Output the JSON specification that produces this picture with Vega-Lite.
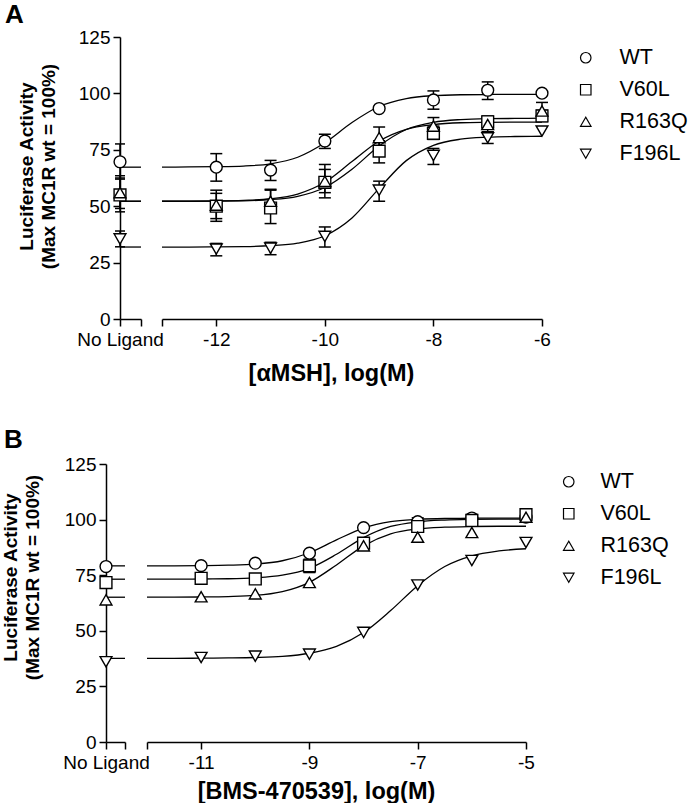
{
  "$schema": "https://vega.github.io/schema/vega-lite/v6.json",
  "background": "white",
  "padding": {"left": 0, "top": 2, "right": 0, "bottom": 0},
  "config": {
    "font": "Liberation Sans",
    "view": {"stroke": null},
    "axis": {"domainColor": "black", "domainWidth": 1.5, "tickColor": "black", "tickWidth": 1.5, "tickSize": 7, "labelFont": "Liberation Sans", "labelFontSize": 19, "labelColor": "black", "labelPadding": 4, "grid": false, "titleColor": "black", "titleFont": "Liberation Sans", "titleFontWeight": "bold"},
    "title": {"font": "Liberation Sans", "fontSize": 26, "fontWeight": "bold", "color": "black"}
  },
  "datasets": {
    "pts": [
      {"panel": "A", "series": "WT", "dose": null, "resp": 69.7, "lo": 62.0, "hi": 77.6},
      {"panel": "A", "series": "WT", "dose": -12, "resp": 67.3, "lo": 61.1, "hi": 73.3},
      {"panel": "A", "series": "WT", "dose": -11, "resp": 66.0, "lo": 61.4, "hi": 70.3},
      {"panel": "A", "series": "WT", "dose": -10, "resp": 78.9, "lo": 75.6, "hi": 81.9},
      {"panel": "A", "series": "WT", "dose": -9, "resp": 93.3, "lo": null, "hi": null},
      {"panel": "A", "series": "WT", "dose": -8, "resp": 97.1, "lo": 93.0, "hi": 101.1},
      {"panel": "A", "series": "WT", "dose": -7, "resp": 101.4, "lo": 97.3, "hi": 105.1},
      {"panel": "A", "series": "WT", "dose": -6, "resp": 100.1, "lo": null, "hi": null},
      {"panel": "A", "series": "V60L", "dose": null, "resp": 55.0, "lo": 47.5, "hi": 62.5},
      {"panel": "A", "series": "V60L", "dose": -12, "resp": 50.0, "lo": 43.3, "hi": 57.1},
      {"panel": "A", "series": "V60L", "dose": -11, "resp": 49.2, "lo": 42.3, "hi": 57.1},
      {"panel": "A", "series": "V60L", "dose": -10, "resp": 60.6, "lo": 53.7, "hi": 68.5},
      {"panel": "A", "series": "V60L", "dose": -9, "resp": 74.4, "lo": 69.2, "hi": 79.0},
      {"panel": "A", "series": "V60L", "dose": -8, "resp": 82.3, "lo": 79.6, "hi": 85.5},
      {"panel": "A", "series": "V60L", "dose": -7, "resp": 87.4, "lo": 84.5, "hi": 90.0},
      {"panel": "A", "series": "V60L", "dose": -6, "resp": 90.0, "lo": 87.5, "hi": 92.5},
      {"panel": "A", "series": "R163Q", "dose": null, "resp": 56.0, "lo": 49.0, "hi": 63.5},
      {"panel": "A", "series": "R163Q", "dose": -12, "resp": 50.5, "lo": 44.5, "hi": 55.7},
      {"panel": "A", "series": "R163Q", "dose": -11, "resp": 52.2, "lo": 47.0, "hi": 57.5},
      {"panel": "A", "series": "R163Q", "dose": -10, "resp": 61.0, "lo": 56.0, "hi": 66.3},
      {"panel": "A", "series": "R163Q", "dose": -9, "resp": 80.4, "lo": 75.5, "hi": 85.1},
      {"panel": "A", "series": "R163Q", "dose": -8, "resp": 85.5, "lo": 82.0, "hi": 89.3},
      {"panel": "A", "series": "R163Q", "dose": -7, "resp": 86.2, "lo": 83.0, "hi": 89.0},
      {"panel": "A", "series": "R163Q", "dose": -6, "resp": 92.2, "lo": 88.5, "hi": 96.0},
      {"panel": "A", "series": "F196L", "dose": null, "resp": 35.5, "lo": 32.0, "hi": 39.0},
      {"panel": "A", "series": "F196L", "dose": -12, "resp": 31.0, "lo": 28.0, "hi": 33.5},
      {"panel": "A", "series": "F196L", "dose": -11, "resp": 31.4, "lo": 28.5, "hi": 34.0},
      {"panel": "A", "series": "F196L", "dose": -10, "resp": 36.6, "lo": 31.9, "hi": 40.8},
      {"panel": "A", "series": "F196L", "dose": -9, "resp": 57.1, "lo": 52.2, "hi": 61.1},
      {"panel": "A", "series": "F196L", "dose": -8, "resp": 72.5, "lo": 68.5, "hi": 75.6},
      {"panel": "A", "series": "F196L", "dose": -7, "resp": 80.3, "lo": 77.8, "hi": 83.0},
      {"panel": "A", "series": "F196L", "dose": -6, "resp": 83.3, "lo": null, "hi": null},
      {"panel": "B", "series": "WT", "dose": null, "resp": 78.9, "lo": null, "hi": null},
      {"panel": "B", "series": "WT", "dose": -11, "resp": 79.3, "lo": null, "hi": null},
      {"panel": "B", "series": "WT", "dose": -10, "resp": 80.4, "lo": null, "hi": null},
      {"panel": "B", "series": "WT", "dose": -9, "resp": 84.9, "lo": null, "hi": null},
      {"panel": "B", "series": "WT", "dose": -8, "resp": 96.4, "lo": null, "hi": null},
      {"panel": "B", "series": "WT", "dose": -7, "resp": 99.1, "lo": 97.5, "hi": 100.8},
      {"panel": "B", "series": "WT", "dose": -6, "resp": 100.7, "lo": 99.0, "hi": 102.3},
      {"panel": "B", "series": "WT", "dose": -5, "resp": 101.1, "lo": null, "hi": null},
      {"panel": "B", "series": "V60L", "dose": null, "resp": 71.7, "lo": null, "hi": null},
      {"panel": "B", "series": "V60L", "dose": -11, "resp": 73.6, "lo": null, "hi": null},
      {"panel": "B", "series": "V60L", "dose": -10, "resp": 73.3, "lo": null, "hi": null},
      {"panel": "B", "series": "V60L", "dose": -9, "resp": 79.2, "lo": 76.2, "hi": 82.2},
      {"panel": "B", "series": "V60L", "dose": -8, "resp": 89.4, "lo": 87.5, "hi": 91.3},
      {"panel": "B", "series": "V60L", "dose": -7, "resp": 96.9, "lo": 95.3, "hi": 98.5},
      {"panel": "B", "series": "V60L", "dose": -6, "resp": 99.6, "lo": 97.5, "hi": 101.7},
      {"panel": "B", "series": "V60L", "dose": -5, "resp": 102.2, "lo": 100.5, "hi": 103.9},
      {"panel": "B", "series": "R163Q", "dose": null, "resp": 63.9, "lo": null, "hi": null},
      {"panel": "B", "series": "R163Q", "dose": -11, "resp": 65.3, "lo": null, "hi": null},
      {"panel": "B", "series": "R163Q", "dose": -10, "resp": 66.6, "lo": null, "hi": null},
      {"panel": "B", "series": "R163Q", "dose": -9, "resp": 71.7, "lo": null, "hi": null},
      {"panel": "B", "series": "R163Q", "dose": -8, "resp": 88.2, "lo": null, "hi": null},
      {"panel": "B", "series": "R163Q", "dose": -7, "resp": 92.1, "lo": null, "hi": null},
      {"panel": "B", "series": "R163Q", "dose": -6, "resp": 94.2, "lo": null, "hi": null},
      {"panel": "B", "series": "R163Q", "dose": -5, "resp": 101.1, "lo": null, "hi": null},
      {"panel": "B", "series": "F196L", "dose": null, "resp": 36.1, "lo": null, "hi": null},
      {"panel": "B", "series": "F196L", "dose": -11, "resp": 38.0, "lo": null, "hi": null},
      {"panel": "B", "series": "F196L", "dose": -10, "resp": 38.6, "lo": null, "hi": null},
      {"panel": "B", "series": "F196L", "dose": -9, "resp": 39.5, "lo": null, "hi": null},
      {"panel": "B", "series": "F196L", "dose": -8, "resp": 49.3, "lo": null, "hi": null},
      {"panel": "B", "series": "F196L", "dose": -7, "resp": 70.6, "lo": null, "hi": null},
      {"panel": "B", "series": "F196L", "dose": -6, "resp": 81.6, "lo": null, "hi": null},
      {"panel": "B", "series": "F196L", "dose": -5, "resp": 89.7, "lo": null, "hi": null}
    ],
    "curves": [
      {"panel": "A", "series": "WT", "dose": -13, "resp": 67.3}, {"panel": "A", "series": "WT", "dose": -12.5, "resp": 67.4}, {"panel": "A", "series": "WT", "dose": -12, "resp": 67.5}, {"panel": "A", "series": "WT", "dose": -11.5, "resp": 67.8}, {"panel": "A", "series": "WT", "dose": -11, "resp": 68.8}, {"panel": "A", "series": "WT", "dose": -10.5, "resp": 71.7}, {"panel": "A", "series": "WT", "dose": -10, "resp": 78.1}, {"panel": "A", "series": "WT", "dose": -9.5, "resp": 87.1}, {"panel": "A", "series": "WT", "dose": -9, "resp": 94.2}, {"panel": "A", "series": "WT", "dose": -8.5, "resp": 97.7}, {"panel": "A", "series": "WT", "dose": -8, "resp": 99.0}, {"panel": "A", "series": "WT", "dose": -7.5, "resp": 99.4}, {"panel": "A", "series": "WT", "dose": -7, "resp": 99.5}, {"panel": "A", "series": "WT", "dose": -6.5, "resp": 99.6}, {"panel": "A", "series": "WT", "dose": -6, "resp": 99.6},
      {"panel": "A", "series": "V60L", "dose": -13, "resp": 52.2}, {"panel": "A", "series": "V60L", "dose": -12.5, "resp": 52.2}, {"panel": "A", "series": "V60L", "dose": -12, "resp": 52.3}, {"panel": "A", "series": "V60L", "dose": -11.5, "resp": 52.4}, {"panel": "A", "series": "V60L", "dose": -11, "resp": 52.9}, {"panel": "A", "series": "V60L", "dose": -10.5, "resp": 54.4}, {"panel": "A", "series": "V60L", "dose": -10, "resp": 58.3}, {"panel": "A", "series": "V60L", "dose": -9.5, "resp": 66.4}, {"panel": "A", "series": "V60L", "dose": -9, "resp": 76.7}, {"panel": "A", "series": "V60L", "dose": -8.5, "resp": 84.0}, {"panel": "A", "series": "V60L", "dose": -8, "resp": 87.2}, {"panel": "A", "series": "V60L", "dose": -7.5, "resp": 88.4}, {"panel": "A", "series": "V60L", "dose": -7, "resp": 88.8}, {"panel": "A", "series": "V60L", "dose": -6.5, "resp": 88.9}, {"panel": "A", "series": "V60L", "dose": -6, "resp": 89.0},
      {"panel": "A", "series": "R163Q", "dose": -13, "resp": 52.2}, {"panel": "A", "series": "R163Q", "dose": -12.5, "resp": 52.2}, {"panel": "A", "series": "R163Q", "dose": -12, "resp": 52.3}, {"panel": "A", "series": "R163Q", "dose": -11.5, "resp": 52.6}, {"panel": "A", "series": "R163Q", "dose": -11, "resp": 53.3}, {"panel": "A", "series": "R163Q", "dose": -10.5, "resp": 55.4}, {"panel": "A", "series": "R163Q", "dose": -10, "resp": 60.6}, {"panel": "A", "series": "R163Q", "dose": -9.5, "resp": 69.8}, {"panel": "A", "series": "R163Q", "dose": -9, "resp": 78.9}, {"panel": "A", "series": "R163Q", "dose": -8.5, "resp": 84.1}, {"panel": "A", "series": "R163Q", "dose": -8, "resp": 86.2}, {"panel": "A", "series": "R163Q", "dose": -7.5, "resp": 87.0}, {"panel": "A", "series": "R163Q", "dose": -7, "resp": 87.2}, {"panel": "A", "series": "R163Q", "dose": -6.5, "resp": 87.3}, {"panel": "A", "series": "R163Q", "dose": -6, "resp": 87.3},
      {"panel": "A", "series": "F196L", "dose": -13, "resp": 31.9}, {"panel": "A", "series": "F196L", "dose": -12.5, "resp": 31.9}, {"panel": "A", "series": "F196L", "dose": -12, "resp": 32.0}, {"panel": "A", "series": "F196L", "dose": -11.5, "resp": 32.1}, {"panel": "A", "series": "F196L", "dose": -11, "resp": 32.5}, {"panel": "A", "series": "F196L", "dose": -10.5, "resp": 33.6}, {"panel": "A", "series": "F196L", "dose": -10, "resp": 36.9}, {"panel": "A", "series": "F196L", "dose": -9.5, "resp": 44.8}, {"panel": "A", "series": "F196L", "dose": -9, "resp": 57.9}, {"panel": "A", "series": "F196L", "dose": -8.5, "resp": 70.2}, {"panel": "A", "series": "F196L", "dose": -8, "resp": 77.0}, {"panel": "A", "series": "F196L", "dose": -7.5, "resp": 79.7}, {"panel": "A", "series": "F196L", "dose": -7, "resp": 80.6}, {"panel": "A", "series": "F196L", "dose": -6.5, "resp": 80.9}, {"panel": "A", "series": "F196L", "dose": -6, "resp": 81.0},
      {"panel": "B", "series": "WT", "dose": -12, "resp": 79.2}, {"panel": "B", "series": "WT", "dose": -11.5, "resp": 79.2}, {"panel": "B", "series": "WT", "dose": -11, "resp": 79.3}, {"panel": "B", "series": "WT", "dose": -10.5, "resp": 79.5}, {"panel": "B", "series": "WT", "dose": -10, "resp": 80.0}, {"panel": "B", "series": "WT", "dose": -9.5, "resp": 81.5}, {"panel": "B", "series": "WT", "dose": -9, "resp": 85.1}, {"panel": "B", "series": "WT", "dose": -8.5, "resp": 90.9}, {"panel": "B", "series": "WT", "dose": -8, "resp": 96.2}, {"panel": "B", "series": "WT", "dose": -7.5, "resp": 99.1}, {"panel": "B", "series": "WT", "dose": -7, "resp": 100.1}, {"panel": "B", "series": "WT", "dose": -6.5, "resp": 100.5}, {"panel": "B", "series": "WT", "dose": -6, "resp": 100.6}, {"panel": "B", "series": "WT", "dose": -5.5, "resp": 100.7}, {"panel": "B", "series": "WT", "dose": -5, "resp": 100.7},
      {"panel": "B", "series": "V60L", "dose": -12, "resp": 73.2}, {"panel": "B", "series": "V60L", "dose": -11.5, "resp": 73.2}, {"panel": "B", "series": "V60L", "dose": -11, "resp": 73.3}, {"panel": "B", "series": "V60L", "dose": -10.5, "resp": 73.4}, {"panel": "B", "series": "V60L", "dose": -10, "resp": 73.8}, {"panel": "B", "series": "V60L", "dose": -9.5, "resp": 75.0}, {"panel": "B", "series": "V60L", "dose": -9, "resp": 78.1}, {"panel": "B", "series": "V60L", "dose": -8.5, "resp": 84.4}, {"panel": "B", "series": "V60L", "dose": -8, "resp": 91.9}, {"panel": "B", "series": "V60L", "dose": -7.5, "resp": 96.9}, {"panel": "B", "series": "V60L", "dose": -7, "resp": 99.0}, {"panel": "B", "series": "V60L", "dose": -6.5, "resp": 99.8}, {"panel": "B", "series": "V60L", "dose": -6, "resp": 100.1}, {"panel": "B", "series": "V60L", "dose": -5.5, "resp": 100.2}, {"panel": "B", "series": "V60L", "dose": -5, "resp": 100.2},
      {"panel": "B", "series": "R163Q", "dose": -12, "resp": 65.1}, {"panel": "B", "series": "R163Q", "dose": -11.5, "resp": 65.1}, {"panel": "B", "series": "R163Q", "dose": -11, "resp": 65.2}, {"panel": "B", "series": "R163Q", "dose": -10.5, "resp": 65.4}, {"panel": "B", "series": "R163Q", "dose": -10, "resp": 65.9}, {"panel": "B", "series": "R163Q", "dose": -9.5, "resp": 67.6}, {"panel": "B", "series": "R163Q", "dose": -9, "resp": 71.8}, {"panel": "B", "series": "R163Q", "dose": -8.5, "resp": 79.6}, {"panel": "B", "series": "R163Q", "dose": -8, "resp": 88.2}, {"panel": "B", "series": "R163Q", "dose": -7.5, "resp": 93.6}, {"panel": "B", "series": "R163Q", "dose": -7, "resp": 95.8}, {"panel": "B", "series": "R163Q", "dose": -6.5, "resp": 96.6}, {"panel": "B", "series": "R163Q", "dose": -6, "resp": 96.9}, {"panel": "B", "series": "R163Q", "dose": -5.5, "resp": 97.0}, {"panel": "B", "series": "R163Q", "dose": -5, "resp": 97.0},
      {"panel": "B", "series": "F196L", "dose": -12, "resp": 37.6}, {"panel": "B", "series": "F196L", "dose": -11.5, "resp": 37.6}, {"panel": "B", "series": "F196L", "dose": -11, "resp": 37.7}, {"panel": "B", "series": "F196L", "dose": -10.5, "resp": 37.8}, {"panel": "B", "series": "F196L", "dose": -10, "resp": 38.0}, {"panel": "B", "series": "F196L", "dose": -9.5, "resp": 38.5}, {"panel": "B", "series": "F196L", "dose": -9, "resp": 39.9}, {"panel": "B", "series": "F196L", "dose": -8.5, "resp": 43.0}, {"panel": "B", "series": "F196L", "dose": -8, "resp": 49.2}, {"panel": "B", "series": "F196L", "dose": -7.5, "resp": 59.1}, {"panel": "B", "series": "F196L", "dose": -7, "resp": 70.3}, {"panel": "B", "series": "F196L", "dose": -6.5, "resp": 78.9}, {"panel": "B", "series": "F196L", "dose": -6, "resp": 83.7}, {"panel": "B", "series": "F196L", "dose": -5.5, "resp": 85.9}, {"panel": "B", "series": "F196L", "dose": -5, "resp": 86.9}
    ]
  },
  "bounds": "flush",
  "spacing": 427,
  "resolve": {"scale": {"x": "independent", "y": "independent", "shape": "independent"}, "legend": {"shape": "independent"}},
  "vconcat": [
    {
      "title": {"text": "A", "anchor": "start", "frame": "group", "dx": -101, "offset": 0},
      "bounds": "flush",
      "spacing": 13,
      "resolve": {"scale": {"x": "independent", "y": "independent", "shape": "independent"}, "legend": {"shape": "independent"}},
      "hconcat": [
        {"width": 1, "height": 282, "data": {"values": []}, "mark": "point"},
        {
          "bounds": "flush",
          "spacing": 21,
          "resolve": {"scale": {"x": "independent", "y": "independent", "shape": "independent"}, "legend": {"shape": "independent"}},
          "hconcat": [
            {
              "width": 21, "height": 282,
              "layer": [
                {"data": {"name": "curves"}, "transform": [{"filter": "datum.panel == 'A' && datum.dose == -13"}],
                 "mark": {"type": "rule", "color": "black", "strokeWidth": 1.3},
                 "encoding": {
                   "x": {"datum": 0, "type": "quantitative", "scale": {"domain": [0, 1], "nice": false, "zero": false},
                         "axis": {"values": [0, 1], "labelExpr": "datum.value == 0 ? 'No Ligand' : ''", "title": null, "labelFlush": false, "labelOverlap": false}},
                   "x2": {"datum": 1},
                   "y": {"field": "resp", "type": "quantitative", "scale": {"domain": [0, 125], "nice": false, "zero": true},
                         "axis": {"values": [0, 25, 50, 75, 100, 125], "title": ["Luciferase Activity", "(Max MC1R wt = 100%)"], "titleFontSize": 19, "titleLineHeight": 22, "titleX": -88, "titleY": 129, "titleAlign": "center", "titleAngle": -90, "titleBaseline": "alphabetic", "labelPadding": 3}}}},
                {"data": {"name": "pts"}, "transform": [{"filter": "datum.panel == 'A' && datum.dose == null && datum.lo != null"}],
                 "mark": {"type": "rule", "color": "black", "strokeWidth": 1.5},
                 "encoding": {"x": {"datum": 0, "type": "quantitative"}, "y": {"field": "lo", "type": "quantitative"}, "y2": {"field": "hi"}}},
                {"data": {"name": "pts"}, "transform": [{"filter": "datum.panel == 'A' && datum.dose == null && datum.lo != null"}],
                 "mark": {"type": "tick", "orient": "horizontal", "color": "black", "size": 10, "thickness": 1.5, "opacity": 1},
                 "encoding": {"x": {"datum": 0, "type": "quantitative"}, "y": {"field": "lo", "type": "quantitative"}}},
                {"data": {"name": "pts"}, "transform": [{"filter": "datum.panel == 'A' && datum.dose == null && datum.lo != null"}],
                 "mark": {"type": "tick", "orient": "horizontal", "color": "black", "size": 10, "thickness": 1.5, "opacity": 1},
                 "encoding": {"x": {"datum": 0, "type": "quantitative"}, "y": {"field": "hi", "type": "quantitative"}}},
                {"data": {"name": "pts"}, "transform": [{"filter": "datum.panel == 'A' && datum.dose == null"}],
                 "mark": {"type": "point", "filled": false, "fill": "white", "fillOpacity": 1, "stroke": "black", "strokeWidth": 1.4, "size": 140, "opacity": 1},
                 "encoding": {"x": {"datum": 0, "type": "quantitative"}, "y": {"field": "resp", "type": "quantitative"},
                   "shape": {"field": "series", "type": "nominal", "scale": {"domain": ["WT", "V60L", "R163Q", "F196L"], "range": ["circle", "square", "triangle-up", "triangle-down"]}, "legend": null}}}
              ]
            },
            {
              "width": 380, "height": 282,
              "layer": [
                {"data": {"name": "curves"}, "transform": [{"filter": "datum.panel == 'A'"}],
                 "mark": {"type": "line", "color": "black", "strokeWidth": 1.3, "interpolate": "monotone"},
                 "encoding": {
                   "x": {"field": "dose", "type": "quantitative", "scale": {"domain": [-13, -6], "nice": false, "zero": false},
                         "axis": {"values": [-13, -12, -10, -8, -6], "labelExpr": "datum.value < -12.5 ? '' : '-' + abs(datum.value)", "title": "[αMSH], log(M)", "titleFontSize": 23.5, "titleX": 169, "titleY": 42, "titleBaseline": "top", "labelFlush": false, "labelOverlap": false}},
                   "y": {"field": "resp", "type": "quantitative", "scale": {"domain": [0, 125], "nice": false}, "axis": null},
                   "detail": {"field": "series"}}},
                {"data": {"name": "pts"}, "transform": [{"filter": "datum.panel == 'A' && datum.dose != null && datum.lo != null"}],
                 "mark": {"type": "rule", "color": "black", "strokeWidth": 1.5},
                 "encoding": {"x": {"field": "dose", "type": "quantitative"}, "y": {"field": "lo", "type": "quantitative"}, "y2": {"field": "hi"}}},
                {"data": {"name": "pts"}, "transform": [{"filter": "datum.panel == 'A' && datum.dose != null && datum.lo != null"}],
                 "mark": {"type": "tick", "orient": "horizontal", "color": "black", "size": 12, "thickness": 1.5, "opacity": 1},
                 "encoding": {"x": {"field": "dose", "type": "quantitative"}, "y": {"field": "lo", "type": "quantitative"}}},
                {"data": {"name": "pts"}, "transform": [{"filter": "datum.panel == 'A' && datum.dose != null && datum.lo != null"}],
                 "mark": {"type": "tick", "orient": "horizontal", "color": "black", "size": 12, "thickness": 1.5, "opacity": 1},
                 "encoding": {"x": {"field": "dose", "type": "quantitative"}, "y": {"field": "hi", "type": "quantitative"}}},
                {"data": {"name": "pts"}, "transform": [{"filter": "datum.panel == 'A' && datum.dose != null"}],
                 "mark": {"type": "point", "filled": false, "fill": "white", "fillOpacity": 1, "stroke": "black", "strokeWidth": 1.4, "size": 140, "opacity": 1},
                 "encoding": {"x": {"field": "dose", "type": "quantitative"}, "y": {"field": "resp", "type": "quantitative"},
                   "shape": {"field": "series", "type": "nominal", "scale": {"domain": ["WT", "V60L", "R163Q", "F196L"], "range": ["circle", "square", "triangle-up", "triangle-down"]},
                     "legend": {"orient": "none", "legendX": 413, "legendY": 10, "title": null, "labelFontSize": 21.5, "labelFont": "Liberation Sans", "labelColor": "black", "symbolSize": 110, "symbolStrokeWidth": 1.2, "rowPadding": 9, "labelOffset": 23, "padding": 0,
                       "encode": {"symbols": {"update": {"stroke": {"value": "black"}, "fill": {"value": "white"}, "fillOpacity": {"value": 1}, "strokeOpacity": {"value": 1}, "opacity": {"value": 1}}}}}}}}
              ]
            }
          ]
        }
      ]
    },
    {
      "title": {"text": "B", "anchor": "start", "frame": "group", "dx": -102, "offset": 2},
      "bounds": "flush",
      "spacing": 22,
      "resolve": {"scale": {"x": "independent", "y": "independent", "shape": "independent"}, "legend": {"shape": "independent"}},
      "hconcat": [
        {
          "width": 19, "height": 278,
          "layer": [
            {"data": {"name": "curves"}, "transform": [{"filter": "datum.panel == 'B' && datum.dose == -12"}],
             "mark": {"type": "rule", "color": "black", "strokeWidth": 1.3},
             "encoding": {
               "x": {"datum": 0, "type": "quantitative", "scale": {"domain": [0, 1], "nice": false, "zero": false},
                     "axis": {"values": [0, 1], "labelExpr": "datum.value == 0 ? 'No Ligand' : ''", "title": null, "labelFlush": false, "labelOverlap": false}},
               "x2": {"datum": 1},
               "y": {"field": "resp", "type": "quantitative", "scale": {"domain": [0, 125], "nice": false, "zero": true},
                     "axis": {"values": [0, 25, 50, 75, 100, 125], "title": ["Luciferase Activity", "(Max MC1R wt = 100%)"], "titleFontSize": 19, "titleLineHeight": 22, "titleX": -90, "titleY": 113, "titleAlign": "center", "titleAngle": -90, "titleBaseline": "alphabetic", "labelPadding": 3}}}},
            {"data": {"name": "pts"}, "transform": [{"filter": "datum.panel == 'B' && datum.dose == null"}],
             "mark": {"type": "point", "filled": false, "fill": "white", "fillOpacity": 1, "stroke": "black", "strokeWidth": 1.4, "size": 140, "opacity": 1},
             "encoding": {"x": {"datum": 0, "type": "quantitative"}, "y": {"field": "resp", "type": "quantitative"},
               "shape": {"field": "series", "type": "nominal", "scale": {"domain": ["WT", "V60L", "R163Q", "F196L"], "range": ["circle", "square", "triangle-up", "triangle-down"]}, "legend": null}}}
          ]
        },
        {
          "width": 379, "height": 278,
          "layer": [
            {"data": {"name": "curves"}, "transform": [{"filter": "datum.panel == 'B'"}],
             "mark": {"type": "line", "color": "black", "strokeWidth": 1.3, "interpolate": "monotone"},
             "encoding": {
               "x": {"field": "dose", "type": "quantitative", "scale": {"domain": [-12, -5], "nice": false, "zero": false},
                     "axis": {"values": [-12, -11, -9, -7, -5], "labelExpr": "datum.value < -11.5 ? '' : '-' + abs(datum.value)", "title": "[BMS-470539], log(M)", "titleFontSize": 23.5, "titleX": 169, "titleY": 37, "titleBaseline": "top", "labelFlush": false, "labelOverlap": false}},
               "y": {"field": "resp", "type": "quantitative", "scale": {"domain": [0, 125], "nice": false}, "axis": null},
               "detail": {"field": "series"}}},
            {"data": {"name": "pts"}, "transform": [{"filter": "datum.panel == 'B' && datum.dose != null && datum.lo != null"}],
             "mark": {"type": "rule", "color": "black", "strokeWidth": 1.5},
             "encoding": {"x": {"field": "dose", "type": "quantitative"}, "y": {"field": "lo", "type": "quantitative"}, "y2": {"field": "hi"}}},
            {"data": {"name": "pts"}, "transform": [{"filter": "datum.panel == 'B' && datum.dose != null && datum.lo != null"}],
             "mark": {"type": "tick", "orient": "horizontal", "color": "black", "size": 12, "thickness": 1.5, "opacity": 1},
             "encoding": {"x": {"field": "dose", "type": "quantitative"}, "y": {"field": "lo", "type": "quantitative"}}},
            {"data": {"name": "pts"}, "transform": [{"filter": "datum.panel == 'B' && datum.dose != null && datum.lo != null"}],
             "mark": {"type": "tick", "orient": "horizontal", "color": "black", "size": 12, "thickness": 1.5, "opacity": 1},
             "encoding": {"x": {"field": "dose", "type": "quantitative"}, "y": {"field": "hi", "type": "quantitative"}}},
            {"data": {"name": "pts"}, "transform": [{"filter": "datum.panel == 'B' && datum.dose != null"}],
             "mark": {"type": "point", "filled": false, "fill": "white", "fillOpacity": 1, "stroke": "black", "strokeWidth": 1.4, "size": 140, "opacity": 1},
             "encoding": {"x": {"field": "dose", "type": "quantitative"}, "y": {"field": "resp", "type": "quantitative"},
               "shape": {"field": "series", "type": "nominal", "scale": {"domain": ["WT", "V60L", "R163Q", "F196L"], "range": ["circle", "square", "triangle-up", "triangle-down"]},
                 "legend": {"orient": "none", "legendX": 411, "legendY": 7, "title": null, "labelFontSize": 21.5, "labelFont": "Liberation Sans", "labelColor": "black", "symbolSize": 110, "symbolStrokeWidth": 1.2, "rowPadding": 9, "labelOffset": 21, "padding": 0,
                   "encode": {"symbols": {"update": {"stroke": {"value": "black"}, "fill": {"value": "white"}, "fillOpacity": {"value": 1}, "strokeOpacity": {"value": 1}, "opacity": {"value": 1}}}}}}}}
          ]
        }
      ]
    }
  ]
}
